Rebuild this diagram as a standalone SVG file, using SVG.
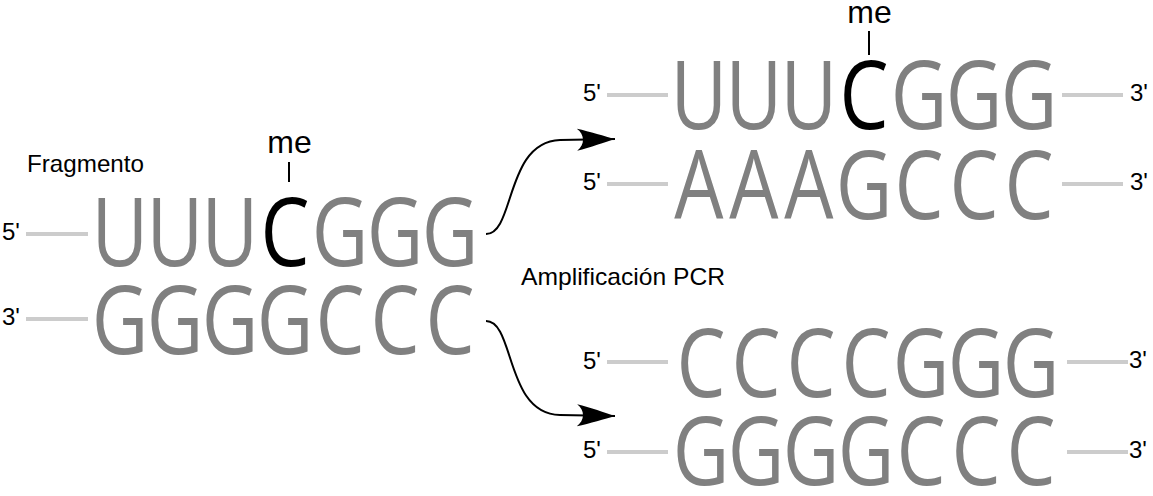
<svg xmlns="http://www.w3.org/2000/svg" width="1153" height="496" viewBox="0 0 1153 496">
  <style>
    .seq { font-family: "Open Sans", "Noto Sans", sans-serif; font-size: 95px; fill: #808080; text-anchor: middle; }
    .me { fill: #000000; }
    .lbl { font-family: "Liberation Sans", Arial, sans-serif; font-size: 24px; fill: #000000; }
    .mel { font-family: "Liberation Sans", Arial, sans-serif; font-size: 32px; fill: #000000; text-anchor: middle; }
    .strand { stroke: #cccccc; stroke-width: 4; fill: none; }
    .tick { stroke: #000000; stroke-width: 2; fill: none; }
    .conn { stroke: #000000; stroke-width: 2; fill: none; marker-end: url(#head); }
  </style>
  <defs>
    <marker id="head" markerUnits="userSpaceOnUse" markerWidth="44" markerHeight="28" viewBox="-40 -14 44 28" refX="0" refY="0" orient="auto">
      <path d="M0,0 C-10,-3 -25,-8 -38,-11 C-30,-5 -30,5 -38,11 C-25,8 -10,3 0,0 Z" fill="#000000"/>
    </marker>
  </defs>

  <g id="fragment">
    <text class="lbl" x="27" y="172" textLength="117" lengthAdjust="spacingAndGlyphs">Fragmento</text>
    <text class="mel" x="289.5" y="153">me</text>
    <line class="tick" x1="289" y1="162" x2="289" y2="182"/>
    <text class="lbl" x="2" y="240">5'</text>
    <line class="strand" x1="26" y1="234" x2="88" y2="234"/>
    <g transform="translate(120,0) scale(0.82,1)">
      <text class="seq" x="0 67.07 134.15 201.22 268.29 335.37 402.44" y="266">UUU<tspan class="me">C</tspan>GGG</text>
    </g>
    <text class="lbl" x="2" y="325">3'</text>
    <line class="strand" x1="26" y1="319" x2="88" y2="319"/>
    <g transform="translate(120,0) scale(0.82,1)">
      <text class="seq" x="0 67.07 134.15 201.22 268.29 335.37 402.44" y="354">GGGGCCC</text>
    </g>
  </g>

  <g id="product-top">
    <text class="mel" x="869.5" y="23">me</text>
    <line class="tick" x1="869" y1="31" x2="869" y2="55"/>
    <text class="lbl" x="583" y="101">5'</text>
    <line class="strand" x1="607" y1="95" x2="668" y2="95"/>
    <g transform="translate(699,0) scale(0.82,1)">
      <text class="seq" x="0 67.07 134.15 201.22 268.29 335.37 402.44" y="129">UUU<tspan class="me">C</tspan>GGG</text>
    </g>
    <line class="strand" x1="1062" y1="95" x2="1123" y2="95"/>
    <text class="lbl" x="1130" y="101">3'</text>
    <text class="lbl" x="583" y="190">5'</text>
    <line class="strand" x1="607" y1="184" x2="668" y2="184"/>
    <g transform="translate(699,0) scale(0.82,1)">
      <text class="seq" x="0 67.07 134.15 201.22 268.29 335.37 402.44" y="219">AAAGCCC</text>
    </g>
    <line class="strand" x1="1062" y1="184" x2="1123" y2="184"/>
    <text class="lbl" x="1130" y="190">3'</text>
  </g>

  <g id="label-pcr">
    <text class="lbl" x="521" y="285" textLength="204" lengthAdjust="spacingAndGlyphs">Amplificación PCR</text>
  </g>

  <g id="product-bottom">
    <text class="lbl" x="583" y="369">5'</text>
    <line class="strand" x1="607" y1="362" x2="668" y2="362"/>
    <g transform="translate(701,0) scale(0.82,1)">
      <text class="seq" x="0 67.07 134.15 201.22 268.29 335.37 402.44" y="397">CCCCGGG</text>
    </g>
    <line class="strand" x1="1067" y1="362" x2="1128" y2="362"/>
    <text class="lbl" x="1129" y="368">3'</text>
    <text class="lbl" x="583" y="458">5'</text>
    <line class="strand" x1="607" y1="452" x2="668" y2="452"/>
    <g transform="translate(701,0) scale(0.82,1)">
      <text class="seq" x="0 67.07 134.15 201.22 268.29 335.37 402.44" y="485">GGGGCCC</text>
    </g>
    <line class="strand" x1="1067" y1="452" x2="1128" y2="452"/>
    <text class="lbl" x="1129" y="458">3'</text>
  </g>

  <g id="connectors">
    <path class="conn" d="M486,234 C515,234 505,142 560,140 L615,139"/>
    <path class="conn" d="M486,321 C515,321 505,414 560,415 L615,416"/>
  </g>
</svg>
